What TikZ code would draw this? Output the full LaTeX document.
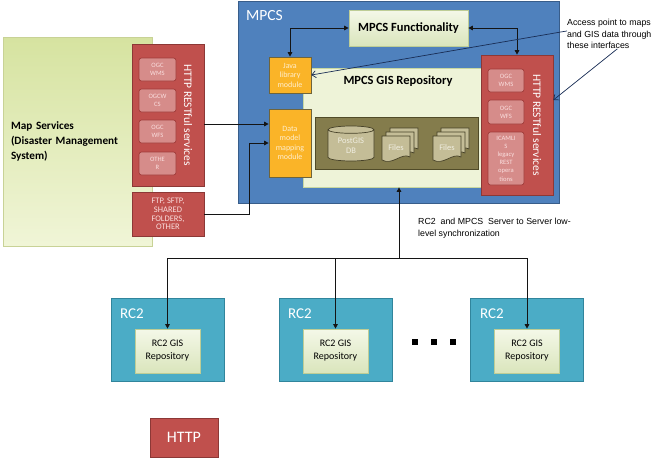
\documentclass[tikz,border=0pt]{standalone}
\usepackage{fontspec}
\setmainfont{Carlito}
\newfontfamily\notefont{Liberation Sans}
\usetikzlibrary{arrows.meta,shapes.geometric}
\definecolor{mpcsblue}{RGB}{79,129,189}
\definecolor{mpcsline}{RGB}{56,93,138}
\definecolor{httpred}{RGB}{192,80,77}
\definecolor{redline}{RGB}{140,56,54}
\definecolor{svcfill}{RGB}{214,140,138}
\definecolor{svcline}{RGB}{160,60,58}
\definecolor{svctext}{RGB}{250,222,222}
\definecolor{modfill}{RGB}{250,180,40}
\definecolor{modline}{RGB}{110,100,60}
\definecolor{modtext}{RGB}{255,238,205}
\definecolor{paletop}{RGB}{244,248,232}
\definecolor{palebot}{RGB}{218,229,188}
\definecolor{paleline}{RGB}{190,205,150}
\definecolor{repofill}{RGB}{238,243,216}
\definecolor{repoline}{RGB}{200,215,160}
\definecolor{vaultfill}{RGB}{132,124,76}
\definecolor{vaultline}{RGB}{80,75,40}
\definecolor{storefill}{RGB}{196,189,151}
\definecolor{storeline}{RGB}{70,65,40}
\definecolor{storetext}{RGB}{240,238,225}
\definecolor{rcfill}{RGB}{75,172,198}
\definecolor{rcline}{RGB}{49,133,156}
\definecolor{maptop}{RGB}{214,227,160}
\definecolor{mapbot}{RGB}{240,245,215}
\definecolor{mapline}{RGB}{200,210,150}
\definecolor{linkcol}{RGB}{20,20,20}
\definecolor{notecol}{RGB}{25,45,85}

\begin{document}
\begin{tikzpicture}[x=1pt,y=-1pt,
  box/.style={rectangle,draw,line width=0.7pt,inner sep=0pt},
  pale/.style={box,top color=paletop,bottom color=palebot,draw=paleline},
  redbox/.style={box,fill=httpred,draw=redline},
  svc/.style={box,rounded corners=2.5pt,fill=svcfill,draw=svcline,text=svctext,align=center,font=\fontsize{6.6}{8.2}\selectfont},
  svctitle/.style={rotate=-90,text=white,inner sep=0pt,font=\fontsize{11.5}{13}\selectfont},
  module/.style={box,fill=modfill,draw=modline,text=modtext,align=center,font=\fontsize{8}{9.5}\selectfont,minimum width=42pt},
  store/.style={fill=storefill,draw=storeline,line width=0.7pt},
  storelabel/.style={text=storetext,align=center,inner sep=0pt,font=\fontsize{8.5}{10}\selectfont},
  rcbox/.style={box,fill=rcfill,draw=rcline,minimum width=113pt,minimum height=83pt},
  gis/.style={pale,align=center,font=\fontsize{10}{13}\selectfont,minimum width=65pt,minimum height=44pt},
  boxtitle/.style={text=white,inner sep=0pt,font=\fontsize{15}{18}\selectfont},
  link/.style={draw=linkcol,line width=0.9pt},
  arr/.style={-{Triangle[length=4.5pt,width=4.5pt]}},
  darr/.style={{Triangle[length=4.5pt,width=4.5pt]}-{Triangle[length=4.5pt,width=4.5pt]}},
  pointer/.style={draw=notecol,line width=0.7pt,-{Straight Barb[length=4pt,width=7pt]}},
  note/.style={font=\notefont\fontsize{8.8}{11.5}\selectfont,align=left,inner sep=0pt}]
\useasboundingbox (0,0) rectangle (652,458);

\node[box,top color=maptop,bottom color=mapbot,draw=mapline,minimum width=149pt,minimum height=209pt,
  text width=133pt,inner xsep=8pt,align=left,font=\bfseries\fontsize{11.2}{15}\selectfont] (mapsvc) at (77.5,141.5)
  {Map Services\\(Disaster Management\\System)};

\node[redbox,minimum width=72pt,minimum height=142pt] (httpL) at (168,115) {};
\node[svctitle] (httpLtitle) at (188,115) {HTTP RESTful services};
\node[svc,minimum width=37pt,minimum height=23pt] (wmsL) at (157.5,69.5) {OGC\\WMS};
\node[svc,minimum width=37pt,minimum height=23pt] (wcsL) at (157.5,100.5) {OGCW\\CS};
\node[svc,minimum width=37pt,minimum height=23pt] (wfsL) at (157.5,131.5) {OGC\\WFS};
\node[svc,minimum width=37pt,minimum height=23pt] (otherL) at (157.5,163.5) {OTHE\\R};
\node[redbox,minimum width=72pt,minimum height=44pt,text=svctext,align=center,font=\fontsize{8.5}{8.7}\selectfont] (ftp) at (168,214)
  {FTP, SFTP,\\SHARED\\FOLDERS,\\OTHER};

\node[box,fill=mpcsblue,draw=mpcsline,minimum width=321pt,minimum height=202pt] (mpcs) at (398.5,102) {};
\node[boxtitle,anchor=base west,font=\fontsize{15.5}{18}\selectfont] (mpcstitle) at (246,20) {MPCS};
\node[pale,minimum width=119pt,minimum height=36pt,font=\bfseries\fontsize{12.5}{15}\selectfont] (func) at (408.5,28) {MPCS Functionality};
\node[box,fill=repofill,draw=repoline,minimum width=192pt,minimum height=119pt] (repo) at (399,127.5) {};
\node[anchor=base,inner sep=0pt,font=\bfseries\fontsize{12.5}{15}\selectfont] (repotitle) at (398,84) {MPCS GIS Repository};
\node[box,fill=vaultfill,draw=vaultline,line width=1pt,minimum width=163pt,minimum height=52pt] (vault) at (396.5,143) {};
\node[store,cylinder,shape border rotate=90,aspect=0.28,minimum width=46pt,minimum height=35pt,inner sep=0pt,
  text=storetext,align=center,font=\fontsize{8.5}{10}\selectfont] (db) at (351,145.5) {PostGIS\\DB};
\foreach \fx/\fn in {382/filesA,433/filesB}{
  \foreach \d in {8,4,0}
    \filldraw[store] (\fx+\d,136-\d) -- (\fx+28+\d,136-\d) -- (\fx+28+\d,157-\d)
      .. controls (\fx+20+\d,152-\d) and (\fx+10+\d,166-\d) .. (\fx+\d,160-\d) -- cycle;
  \node[storelabel] (\fn) at (\fx+14,148) {Files};
}
\node[module,minimum height=36pt] (java) at (290,75) {Java\\library\\module};
\node[module,minimum height=68pt] (datamap) at (290,143) {Data\\model\\mapping\\module};

\node[redbox,minimum width=72pt,minimum height=140pt] (httpR) at (517,125) {};
\node[svctitle] (httpRtitle) at (537,125) {HTTP RESTful services};
\node[svc,minimum width=36pt,minimum height=23pt] (wmsR) at (506,80.5) {OGC\\WMS};
\node[svc,minimum width=36pt,minimum height=24pt] (wfsR) at (506,112) {OGC\\WFS};
\node[svc,minimum width=36pt,minimum height=53pt] (legacyR) at (506,158.5) {ICAMLI\\S\\legacy\\REST\\opera\\tions};

\node[rcbox] (rcA) at (167.5,339.5) {};
\node[boxtitle,anchor=base west] (rcAtitle) at (120,318) {RC2};
\node[gis] (gisA) at (167.5,351) {RC2 GIS\\Repository};
\node[rcbox] (rcB) at (335.5,339.5) {};
\node[boxtitle,anchor=base west] (rcBtitle) at (288,318) {RC2};
\node[gis] (gisB) at (335.5,351) {RC2 GIS\\Repository};
\node[rcbox] (rcC) at (527,339.5) {};
\node[boxtitle,anchor=base west] (rcCtitle) at (480,318) {RC2};
\node[gis] (gisC) at (527,351) {RC2 GIS\\Repository};
\foreach \dx in {415,434,453}
  \fill (\dx-3,339) rectangle ++(6,6);

\node[redbox,minimum width=68pt,minimum height=39pt,text=white,font=\fontsize{16}{19}\selectfont] (httpkey) at (184,437.5) {HTTP};

\draw[link,darr] (java.north) |- (func.west);
\draw[link,darr] (httpR.north) |- (func.east);
\draw[link,arr] (httpL.east |- 0,124) -- (datamap.west |- 0,124);
\draw[link,arr] (ftp.east) -- ++(45,0) |- (datamap.west);

\coordinate (hub) at (399,258);
\draw[link,arr] (hub) -- (repo.south);
\draw[link,arr] (hub) -| (gisA.north);
\draw[link,arr] (hub) -| (gisB.north);
\draw[link,arr] (hub) -| (gisC.north);
\node[note,anchor=west] (synctext) at (418,228) {RC2~~and MPCS~~Server to Server low-\\level synchronization};

\node[note,anchor=north west] (note) at (567,19) {Access point to maps\\and GIS data through\\these interfaces};
\draw[pointer] ([yshift=3pt]note.west) -- (java.east);
\draw[pointer] ([xshift=8pt]note.south) -- (httpR.east |- 0,100);
\end{tikzpicture}
\end{document}
